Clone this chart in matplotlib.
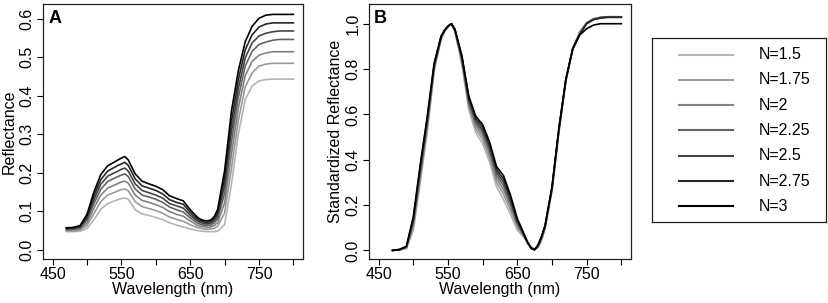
import matplotlib
matplotlib.use("Agg")
import matplotlib.pyplot as plt
from matplotlib.ticker import FixedLocator, FixedFormatter

plt.rcParams['font.family'] = ['Liberation Sans', 'DejaVu Sans']

# ---------------- data ----------------
wavelength = [470, 480, 490, 500, 510, 520, 530, 540, 545, 550, 555, 560, 570, 580, 590,
              600, 610, 620, 630, 640, 650, 660, 665, 670, 675, 680, 685, 690, 700, 710,
              720, 730, 740, 750, 760, 770, 780, 790, 800]

labels = ["N=1.5", "N=1.75", "N=2", "N=2.25", "N=2.5", "N=2.75", "N=3"]
colors = ["#b4b4b4", "#9a9a9a", "#828282", "#646464", "#444444", "#262626", "#000000"]

# Panel A: reflectance
refl_15 = [.047, .047, .048, .055, .078, .105, .120, .127, .130, .133, .134, .131, .104, .093, .089,
           .084, .078, .070, .064, .059, .054, .050, .049, .048, .047, .047, .047, .048, .065, .170,
           .300, .390, .425, .438, .442, .443, .443, .443, .443]
refl_175 = [.049, .049, .051, .063, .094, .125, .142, .149, .153, .156, .158, .153, .125, .112, .107,
            .102, .095, .085, .079, .074, .065, .058, .056, .054, .053, .054, .056, .061, .096, .212,
            .336, .423, .459, .477, .482, .484, .484, .484, .484]
refl_2 = [.051, .052, .054, .070, .108, .142, .160, .168, .172, .176, .178, .173, .142, .128, .123,
          .117, .110, .099, .092, .087, .075, .064, .061, .060, .058, .059, .063, .071, .122, .248,
          .368, .452, .489, .505, .511, .514, .514, .514, .514]
refl_225 = [.053, .053, .057, .077, .120, .157, .177, .186, .190, .194, .197, .190, .158, .142, .137,
            .131, .123, .111, .104, .098, .083, .070, .066, .064, .063, .064, .070, .081, .146, .280,
            .396, .477, .515, .533, .539, .544, .546, .546, .546]
refl_25 = [.054, .055, .059, .082, .130, .170, .191, .200, .204, .209, .212, .204, .171, .154, .148,
           .142, .134, .120, .114, .108, .090, .075, .071, .068, .067, .069, .075, .089, .166, .307,
           .419, .498, .537, .555, .562, .566, .568, .568, .568]
refl_275 = [.056, .057, .061, .087, .140, .182, .204, .214, .219, .223, .227, .219, .184, .166, .160,
            .154, .145, .130, .123, .118, .097, .080, .075, .072, .071, .073, .081, .097, .185, .333,
            .442, .519, .558, .578, .586, .589, .589, .589, .589]
refl_3 = [.057, .058, .063, .092, .150, .195, .218, .228, .233, .238, .242, .233, .197, .178, .171,
          .165, .156, .140, .133, .127, .104, .085, .079, .076, .075, .077, .086, .105, .205, .360,
          .465, .540, .580, .601, .609, .611, .611, .611, .611]

# Panel B: standardized reflectance
std_15 = [.000, .002, .008, .090, .300, .520, .790, .930, .965, .985, 1.000, .965, .820, .620, .520,
          .470, .390, .280, .225, .160, .090, .055, .030, .015, .005, .012, .045, .095, .260, .520,
          .745, .890, .965, 1.005, 1.022, 1.028, 1.030, 1.030, 1.030]
std_175 = [.000, .002, .010, .103, .318, .535, .798, .933, .966, .986, 1.000, .967, .829, .633, .536,
           .489, .409, .300, .248, .179, .101, .058, .031, .014, .005, .015, .049, .098, .264, .524,
           .747, .890, .962, 1.004, 1.022, 1.028, 1.030, 1.030, 1.030]
std_2 = [.000, .003, .012, .115, .333, .549, .805, .936, .968, .987, 1.000, .969, .836, .645, .550,
         .505, .426, .317, .268, .195, .111, .061, .032, .012, .004, .017, .052, .101, .268, .528,
         .749, .890, .959, 1.003, 1.021, 1.028, 1.031, 1.031, 1.031]
std_225 = [.000, .003, .014, .125, .346, .561, .811, .939, .969, .988, 1.000, .971, .843, .655, .562,
           .519, .441, .332, .286, .209, .119, .064, .033, .011, .004, .020, .055, .104, .272, .532,
           .751, .890, .956, 1.002, 1.020, 1.027, 1.030, 1.030, 1.030]
std_25 = [.000, .003, .016, .133, .358, .570, .816, .941, .970, .989, 1.000, .972, .849, .663, .572,
          .531, .453, .345, .301, .221, .126, .066, .034, .010, .003, .021, .057, .106, .275, .534,
          .752, .890, .954, 1.001, 1.019, 1.026, 1.029, 1.029, 1.029]
std_275 = [.000, .004, .017, .142, .369, .580, .821, .943, .971, .989, 1.000, .974, .854, .672, .582,
           .543, .466, .357, .315, .233, .133, .068, .034, .009, .003, .023, .060, .108, .277, .537,
           .754, .890, .952, 1.000, 1.018, 1.025, 1.028, 1.028, 1.028]
std_3 = [.000, .004, .018, .150, .380, .590, .826, .945, .972, .990, 1.000, .975, .860, .680, .592,
         .555, .478, .370, .330, .245, .140, .070, .035, .008, .003, .025, .062, .110, .280, .540,
         .755, .890, .950, .978, .994, 1.000, 1.000, 1.000, 1.000]

refl_series = [refl_15, refl_175, refl_2, refl_225, refl_25, refl_275, refl_3]
std_series = [std_15, std_175, std_2, std_225, std_25, std_275, std_3]

x_ticks = [450, 500, 550, 600, 650, 700, 750, 800]
x_ticklabels = ["450", "", "550", "", "650", "", "750", ""]
yA_ticks = [0.0, 0.1, 0.2, 0.3, 0.4, 0.5, 0.6]
yB_ticks = [0.0, 0.2, 0.4, 0.6, 0.8, 1.0]

# ---------------- figure ----------------
W, H = 829, 303
fig = plt.figure(figsize=(W / 100, H / 100), dpi=100)

def px_axes(l, r, t, b):
    return fig.add_axes([l / W, 1 - b / H, (r - l) / W, (b - t) / H])

axA = px_axes(43, 303, 4, 259)
axB = px_axes(369, 631, 4, 259)

FS = 11.5
lw = 1.2

def style(ax, yticks, ylim, ylabel, letter):
    ax.set_xlim(436, 814)
    ax.set_ylim(*ylim)
    ax.xaxis.set_major_locator(FixedLocator(x_ticks))
    ax.xaxis.set_major_formatter(FixedFormatter(x_ticklabels))
    ax.set_yticks(yticks)
    ax.set_yticklabels([f"{v:.1f}" for v in yticks], rotation=90, va="center")
    ax.tick_params(direction="out", length=4, width=0.8, labelsize=FS, pad=2, colors="black")
    for s in ax.spines.values():
        s.set_linewidth(0.9)
        s.set_color("#222222")
    ax.set_xlabel("Wavelength (nm)", fontsize=FS, labelpad=0)
    ax.set_ylabel(ylabel, fontsize=FS, labelpad=2)
    ax.text(0.02, 0.975, letter, transform=ax.transAxes, fontsize=FS + 1.5,
            fontweight="bold", va="top", ha="left")

for ys, c in zip(refl_series, colors):
    axA.plot(wavelength, ys, color=c, lw=lw, solid_joinstyle="round")
for ys, c in zip(std_series, colors):
    axB.plot(wavelength, ys, color=c, lw=lw, solid_joinstyle="round")

style(axA, yA_ticks, (-0.024, 0.638), "Reflectance", "A")
style(axB, yB_ticks, (-0.038, 1.087), "Standardized Reflectance", "B")

# ---------------- legend ----------------
axL = px_axes(652, 826, 38, 222)
axL.set_xlim(652, 826)
axL.set_ylim(222, 38)
axL.set_xticks([])
axL.set_yticks([])
for s in axL.spines.values():
    s.set_linewidth(0.9)
    s.set_color("#222222")
row0, dy = 54.5, 25.3
for i, (lab, c) in enumerate(zip(labels, colors)):
    y = row0 + i * dy
    axL.plot([679, 733], [y, y], color=c, lw=lw + 0.3)
    axL.text(759, y, lab, fontsize=FS, va="center", ha="left")

fig.savefig("out.png", dpi=100)
